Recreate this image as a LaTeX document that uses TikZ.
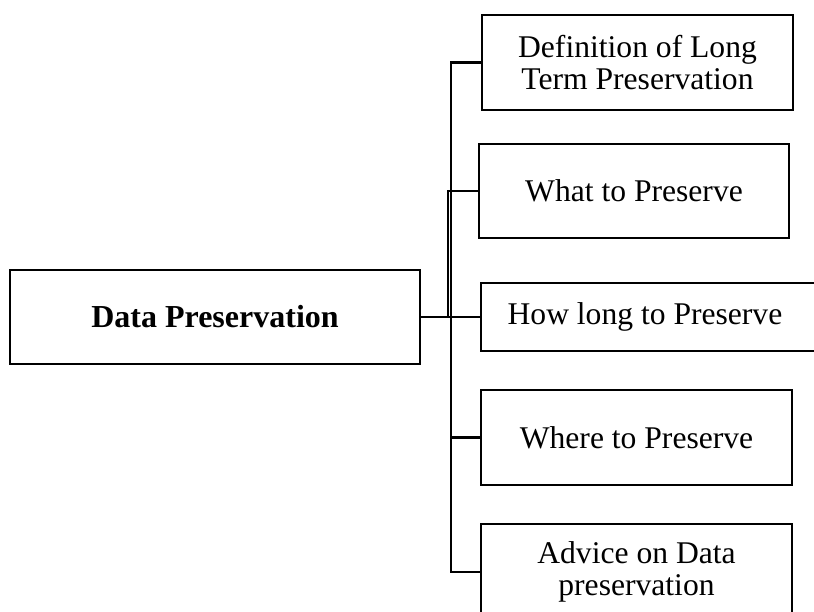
\documentclass[tikz,border=0pt]{standalone}
\usepackage{fontspec}
\setmainfont{Liberation Serif}
\begin{document}
\begin{tikzpicture}[x=1pt,y=-1pt,
  box/.style={draw=black, line width=2.7pt, fill=white, inner sep=0pt,
    align=center, font=\fontsize{31.6}{31.5}\selectfont},
  link/.style={draw=black, line width=2.5pt}]
\useasboundingbox (0,0) rectangle (814,612);

% root and topic boxes
\node[box, minimum width=410pt, minimum height=94pt,
  font=\fontsize{32}{32}\selectfont\bfseries] (main) at (215,317) {Data Preservation};
\node[box, minimum width=311pt, minimum height=95pt] (b1) at (637.5,62.5) {Definition of Long\\Term Preservation};
\node[box, minimum width=310pt, minimum height=94pt] (b2) at (634,191) {What to Preserve};
\node[box, minimum width=340pt, minimum height=68pt] (b3) at (651,317) {\hspace*{-12pt}How long to Preserve};
\node[box, minimum width=311pt, minimum height=95pt] (b4) at (636.5,437.5) {Where to Preserve};
\node[box, minimum width=311pt, minimum height=96pt] (b5) at (636.5,572) {Advice on Data\\preservation};

% spine shared by the topic boxes
\coordinate (sp) at (451,0);
\coordinate (elb) at (448,0);

\draw[link] (main.east) -- (b3.west);
\draw[link] (main.east) -- (main.east -| elb) |- (b2.west);
\draw[link] (b1.west) -- (b1.west -| sp) -- (b5.west -| sp) -- (b5.west);
\draw[link] (b2.west -| sp) -- (b2.west);
\draw[link] (b4.west -| sp) -- (b4.west);
\end{tikzpicture}
\end{document}
